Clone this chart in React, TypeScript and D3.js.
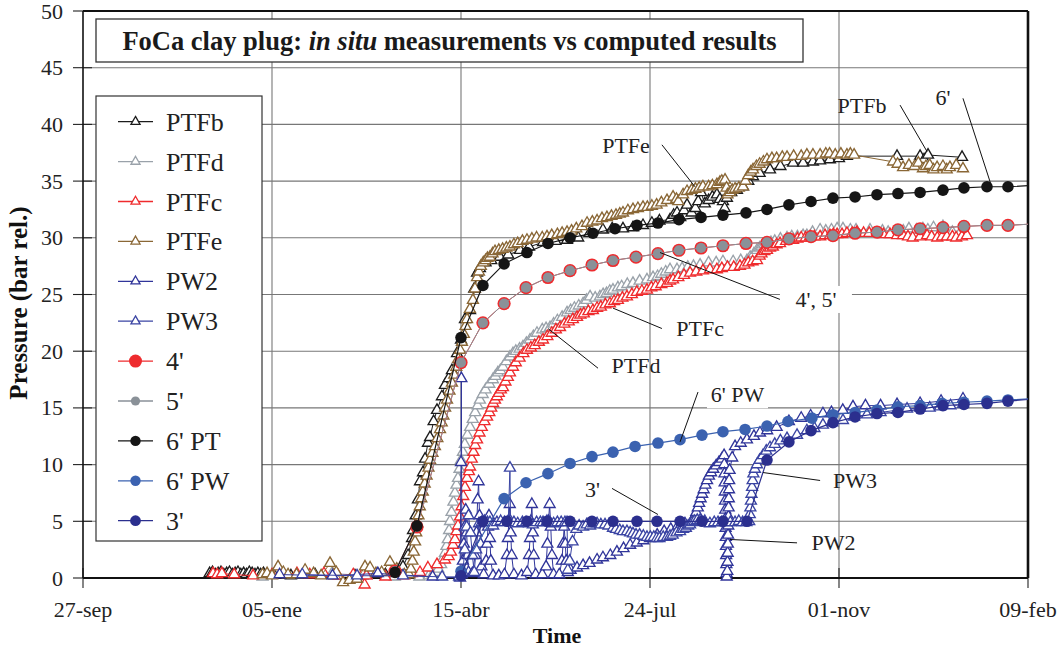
import React from "react";
import * as d3 from "d3";

type P = [number, number];

const xTickDays = [0, 100, 200, 300, 400, 500];
const xTickLabels = ["27-sep", "05-ene", "15-abr", "24-jul", "01-nov", "09-feb"];
const yTickValues = [0, 5, 10, 15, 20, 25, 30, 35, 40, 45, 50];
const legendNames = ["PTFb", "PTFd", "PTFc", "PTFe", "PW2", "PW3", "4'", "5'", "6' PT", "6' PW", "3'"];

// day counted from 27-sep, value in bar
const ptfb: P[] = [[67,0.4],[68.5,0.5],[70,0.3],[71.5,0.4],[73,0.5],[74.5,0.3],[76,0.4],[77.5,0.5],[79,0.3],[80.5,0.4],[82,0.5],[83.5,0.3],[85,0.4],[86.5,0.3],[88,0.5],[89.5,0.4],[91,0.3],[92.5,0.4],[94,0.3],[95.5,0.4],[101,0.3],[110,0.2],[122.8,0.3],[133,0.2],[143.9,0.2],[148,0.2],[160,0.3],[165,0.4],[169.3,1.0],[172,2.0],[174.1,3.5],[174.6,4.2],[176,5.5],[177.2,6.9],[178.3,8.5],[179.9,9.3],[181,10.5],[182.5,11.9],[183.6,12.4],[185.5,13.8],[187.3,14.8],[189.9,16.0],[191.5,17.0],[193.5,17.6],[195.2,18.3],[197.9,19.8],[200,21.0],[202.1,22.8],[204.8,23.6],[207,25.5],[208.5,26.9],[210,27.3],[213,27.8],[216,28.0],[220.6,28.3],[225,28.5],[231.2,28.9],[236,29.2],[243.4,29.6],[250,29.7],[256.1,29.8],[262,30.0],[268,30.4],[275.1,30.7],[280,30.8],[285.7,30.8],[291,30.9],[296.3,31.1],[301,31.3],[305,31.5],[310.6,31.6],[312.5,32.0],[314.3,32.2],[316,31.8],[318,32.4],[319.6,32.9],[322,32.2],[324,32.6],[325.5,33.2],[327,34.0],[329,33.0],[331,33.3],[333,33.6],[335.4,33.8],[337,33.4],[338.6,33.2],[339.5,32.6],[340.7,33.5],[343,34.0],[346,34.2],[349.2,34.5],[352,35.0],[354.5,35.4],[358,35.7],[363.5,36.0],[369,36.3],[375.7,36.6],[381,36.6],[386.2,36.7],[390,36.8],[395.2,36.9],[400,37.0],[404.2,37.2],[430.7,37.2],[442.9,37.2],[445,36.9],[447.1,37.3],[465.1,37.1]];

const ptfd: P[] = [[95,0.1],[131.7,0.4],[150,0.2],[165,0.1],[178,0.1],[183,0.2],[185,0.3],[186.5,0.5],[188,0.8],[189.5,1.2],[190.5,1.7],[191.5,2.2],[192.3,2.8],[193,3.4],[193.7,4.2],[194.2,5.0],[195,5.8],[196,6.7],[196.8,7.5],[197.6,8.2],[198.4,8.8],[199.2,9.6],[200,10.4],[201,11.1],[202,11.8],[203.4,12.6],[204.8,13.3],[206.2,14.0],[207.5,14.6],[208.8,15.2],[210,15.7],[211.5,16.2],[213,16.6],[215,17.1],[216.9,17.5],[218.2,17.8],[219.5,18.1],[220.8,18.3],[222.2,18.6],[224,19.1],[225.9,19.5],[227.5,19.8],[229,20.0],[231,20.2],[232.8,20.4],[234.6,20.7],[236.5,21.0],[238.3,21.3],[240.2,21.6],[243,21.9],[245,22.0],[247.1,22.1],[249,22.4],[251,22.7],[253.5,23.0],[256.1,23.4],[258,23.6],[260,23.8],[262.3,24.0],[264.6,24.2],[266.4,24.5],[268.3,24.8],[271,24.7],[273.5,24.8],[275.2,25.0],[277,25.1],[278.7,25.3],[280.4,25.4],[283,25.6],[285,25.7],[288,25.9],[291,26.0],[294.5,26.2],[298.4,26.3],[301.6,26.5],[304,26.6],[306,26.8],[308.3,27.0],[310.6,27.2],[314.3,27.2],[317,27.3],[320,27.4],[323,27.5],[326.5,27.6],[331,27.8],[335,27.8],[338.6,27.9],[344,27.9],[348,28.0],[351.3,28.0],[353,28.3],[355,28.6],[356.6,28.9],[358,29.1],[359,29.2],[360.5,29.4],[361.9,29.5],[364,29.6],[366,29.7],[369,29.9],[372.5,30.0],[375,30.1],[378,30.1],[381,30.2],[383,30.2],[386,30.5],[390,30.7],[393,30.6],[396,30.7],[399,30.8],[402.1,30.8],[406,30.7],[409,30.7],[416.4,30.7],[423,30.6],[426,30.5],[430.7,30.5],[434,30.6],[437,30.8],[441,30.7],[444.4,30.8],[447,30.7],[450,30.9],[455,31.0],[460,30.5],[464,30.4]];

const ptfc: P[] = [[68.8,0.4],[71,0.3],[73.5,0.4],[80,0.3],[90,0.2],[100,0.3],[113.2,0.4],[120,0.3],[127.5,0.4],[135,0.2],[143,0.3],[148.1,0.4],[149,-0.6],[150,0.2],[160,0.1],[170,0.2],[174,0.4],[178.3,0.5],[182.5,0.9],[187.3,1.2],[191.5,1.6],[193.5,1.9],[194.7,2.3],[195.8,2.9],[196.8,3.4],[197.6,4.1],[198.4,4.6],[199.5,5.4],[200.3,6.3],[201.2,7.2],[202.1,8.0],[203.2,8.8],[204.2,9.4],[204.8,9.8],[205.7,10.5],[206.6,11.1],[207.5,11.7],[208.5,12.2],[209.8,12.8],[211,13.3],[212.4,13.8],[213.8,14.2],[215,14.6],[216,15.0],[217,15.4],[218,15.7],[219,16.0],[220,16.3],[221.1,16.6],[222.2,16.8],[223.5,17.3],[224.8,17.7],[225.9,18.1],[227.5,18.6],[229,19.0],[231,19.4],[233,19.8],[234.9,20.1],[237,20.3],[239,20.5],[241.2,20.8],[243.4,21.0],[245.7,21.3],[248,21.6],[250.2,21.9],[252.4,22.1],[254.7,22.4],[257,22.6],[259.2,22.8],[261.4,23.0],[263.2,23.2],[265,23.3],[267.4,23.5],[269.8,23.6],[272,23.8],[274,23.9],[276.4,24.1],[278.8,24.2],[281,24.4],[283,24.5],[285.4,24.7],[287.8,24.8],[290.4,25.0],[293,25.2],[295.7,25.3],[298.4,25.4],[300.7,25.6],[303,25.7],[306,25.9],[309,26.0],[310.6,26.2],[312.2,26.3],[315,26.5],[318,26.7],[321.2,26.9],[324.5,27.0],[328,27.1],[331.7,27.2],[335.4,27.2],[338,27.3],[341,27.4],[344.3,27.4],[347.6,27.5],[350,27.6],[352,27.8],[354.3,27.9],[356.6,28.0],[358,28.4],[359,28.6],[360.5,28.8],[361.9,28.9],[363.5,29.1],[365,29.2],[367,29.4],[368.8,29.5],[372,29.7],[375.7,29.8],[378,29.9],[380,30.0],[382.4,30.0],[384.7,30.1],[387,30.1],[390,30.1],[392.6,30.2],[395.2,30.2],[397,30.3],[399,30.3],[401.6,30.3],[404.2,30.4],[407,30.4],[409.5,30.5],[413,30.4],[416,30.4],[420.1,30.4],[423.5,30.3],[427,30.3],[430.7,30.2],[433.9,30.2],[436.5,30.1],[439,30.0],[442.9,30.1],[446.6,30.2],[449,30.1],[452,30.0],[454.6,30.1],[457.1,30.1],[460,30.1],[462,30.0],[465,30.1],[467.7,30.2]];

const ptfe: P[] = [[95,0.3],[97.4,0.4],[100,0.2],[103.2,1.0],[106,0.5],[108.5,0.3],[113,0.3],[117.5,0.7],[122,0.4],[126,0.2],[130.7,1.3],[134,0.5],[137.6,-0.4],[141,-0.2],[145,-0.1],[149.2,1.0],[151.9,0.9],[155,0.4],[158,0.5],[162.4,1.4],[166,0.8],[170,0.3],[172.5,0.3],[173.5,0.8],[174.3,1.5],[175,2.3],[175.7,3.2],[176.3,4.0],[176.9,4.8],[177.5,5.5],[178.2,6.3],[179,7.0],[179.8,7.6],[180.8,8.3],[181.8,9.0],[182.8,9.7],[183.6,10.4],[184.9,11.0],[186.2,11.6],[187.5,12.3],[188.9,13.1],[189.8,13.7],[190.7,14.3],[191.6,15.0],[192.6,15.7],[193.9,16.5],[195.2,17.2],[196.4,17.9],[197.5,18.6],[198.5,19.3],[199.5,20.1],[200.5,20.8],[201.5,21.5],[202.4,22.2],[203.2,22.8],[204.7,23.7],[206.3,24.5],[207.4,25.5],[208.5,26.5],[209.5,27.0],[210.5,27.5],[211.8,27.8],[213,28.0],[214,28.2],[215.3,28.3],[216.7,28.6],[218,28.8],[220,28.9],[222,29.0],[224,29.1],[225.9,29.2],[228,29.4],[230,29.5],[232.5,29.7],[234.9,29.8],[237.5,29.9],[240,30.0],[243,30.0],[245.5,30.1],[248,30.2],[251,30.3],[253.5,30.4],[256.1,30.5],[258.5,30.6],[261,30.8],[264,31.0],[266.7,31.3],[269.5,31.4],[272,31.5],[274.6,31.7],[277.2,31.8],[279.6,31.9],[282,32.0],[284,32.1],[285.7,32.2],[288.3,32.4],[291,32.5],[293.6,32.6],[296.3,32.7],[298.6,32.7],[301,32.8],[303.5,32.9],[306,33.1],[309,33.3],[312.2,33.6],[314,33.4],[315,33.2],[317.5,33.8],[319.6,34.1],[322,34.2],[324,34.3],[326,34.4],[328,34.5],[331,34.5],[333,34.6],[335.4,34.7],[337,34.9],[338,35.0],[339.7,35.1],[340.5,34.4],[341,33.8],[342.3,34.0],[343.5,34.2],[345,34.3],[347,34.4],[349.2,34.5],[350.5,35.0],[352,35.5],[353.3,35.8],[354.5,36.0],[356.3,36.3],[358,36.5],[360,36.7],[361.9,36.9],[364.5,37.0],[367,37.0],[370,37.1],[372.5,37.1],[376,37.2],[380,37.2],[383,37.3],[386.2,37.3],[390,37.3],[393,37.4],[395,37.4],[398,37.3],[401,37.4],[404.2,37.3],[406,37.4],[408,37.3],[428.6,36.7],[431,36.5],[433.9,36.2],[437,36.4],[440,36.3],[442,36.6],[444.4,36.1],[446,36.3],[448,36.4],[450,36.0],[451.9,36.2],[455,36.3],[457,36.0],[458.7,36.2],[462,36.4],[465.6,36.1]];

const pw2: P[] = [[104,0.3],[132,0.2],[156,0.4],[185,0.1],[199.5,0.0],[200,10.2],[200.2,17.6],[200.5,0.3],[201,1.5],[201.5,3.0],[202,4.5],[202.5,6.0],[203,4.0],[203.5,2.0],[204,0.5],[206,0.4],[207.5,2.0],[208.2,4.0],[208.8,6.9],[209.3,8.5],[209.8,5.5],[210.3,3.0],[210.8,1.0],[212,0.3],[213.3,1.5],[213.8,3.0],[214.3,4.5],[214.8,5.5],[215.3,3.5],[215.8,1.5],[217,0.2],[220,0.2],[223,0.3],[224.3,2.0],[224.8,3.5],[225.3,5.0],[225.8,6.5],[226.3,4.0],[226.8,2.0],[228,0.3],[232,0.2],[235,0.5],[236,2.0],[236.5,3.5],[237,5.0],[237.5,6.5],[238,4.0],[238.5,2.0],[239.5,0.3],[243,0.3],[245,1.0],[245.7,3.0],[246.3,5.0],[246.9,6.5],[247.5,4.5],[248.1,2.0],[249,0.3],[252,0.3],[253.4,1.5],[254,3.0],[254.6,4.5],[255.2,3.0],[255.7,1.5],[256.5,0.5],[258,0.7],[261.4,0.9],[264.6,1.1],[268,1.3],[272,1.6],[275.1,1.8],[279,2.0],[282.5,2.3],[286,2.6],[289.5,2.9],[293,3.1],[296.5,3.3],[300,3.5],[303.8,3.8],[307.5,4.1],[311,4.3],[314.8,4.6],[318.5,4.8],[322.5,5.1],[323.5,5.4],[324.5,5.8],[325.3,6.2],[326,6.6],[326.8,7.0],[327.6,7.4],[328.4,7.8],[329.3,8.2],[330.2,8.6],[331.2,9.0],[332.3,9.3],[333.5,9.6],[335,9.9],[336.5,10.2],[338,10.5],[339.2,10.8],[339.3,10.0],[339.4,9.2],[339.5,8.4],[339.6,7.6],[339.7,6.8],[339.8,6.0],[339.9,5.2],[340.0,4.4],[340.1,3.6],[340.2,2.8],[340.3,2.0],[340.4,1.2],[340.5,0.4],[340.6,0.1],[340.9,0.6],[341.0,1.4],[341.1,2.2],[341.2,3.0],[341.3,3.8],[341.4,4.6],[341.5,5.4],[341.6,6.2],[341.7,7.0],[341.8,7.8],[341.9,8.6],[342.1,9.5],[343.5,10.6],[345,11.6],[348,11.9],[351.3,12.2],[355,12.5],[358.2,12.8],[362,13.0],[367,13.3],[373.5,13.8],[380,14.1],[385,14.3],[391.5,14.5],[396,14.6],[402,14.8],[407.4,15.1],[414,15.2],[422,15.2],[430.7,15.3],[442.9,15.4],[454,15.6],[465.6,15.8]];

const pw3: P[] = [[116,0.3],[145,0.2],[169.3,0.2],[190,0.1],[199,0.1],[201,0.5],[202,2.5],[203,4.5],[204,5.5],[205,4.0],[206,2.0],[207,0.5],[208,2.5],[209.5,4.8],[211,4.9],[212.5,5.0],[214,4.9],[215.3,4.9],[217,4.6],[219,4.9],[221,5.0],[223,4.9],[225,5.0],[225.9,9.7],[226.2,5.0],[228,4.9],[230,4.8],[232.5,4.9],[234.4,4.9],[236,4.8],[238,4.7],[240,4.9],[242,4.9],[243.4,4.9],[245.5,5.0],[247,4.9],[249,4.8],[251,4.9],[253,4.9],[255,4.9],[256.1,4.9],[256.5,0.7],[257.5,1.5],[259,3.2],[261,4.3],[262.5,4.6],[264.6,4.5],[266.5,4.7],[268.3,4.6],[270,4.8],[272,4.8],[274,4.7],[276.2,4.7],[278,4.6],[280.4,4.4],[282,4.3],[284,4.2],[285.7,4.1],[287.8,4.1],[289.5,4.0],[291,3.9],[292.6,3.8],[294.5,3.8],[296.5,3.7],[298.4,3.6],[300.2,3.6],[302,3.6],[303.6,3.5],[305,3.5],[307,3.6],[309,3.6],[310.6,3.7],[312,3.8],[314,4.0],[315.9,4.1],[317.5,4.3],[319,4.4],[320.2,4.6],[321.2,4.7],[322.3,4.9],[323.5,5.0],[325,5.1],[326.5,5.1],[329,5.0],[331.7,4.8],[334,4.9],[336,4.9],[338,4.9],[340,4.9],[342.5,4.9],[345,4.9],[347,5.0],[349,4.9],[351,4.9],[352.5,5.0],[352.8,5.6],[353.1,6.2],[353.4,6.8],[353.7,7.4],[354,8.0],[354.3,8.6],[354.7,9.2],[355.5,9.6],[356.6,10.0],[358,10.4],[359.8,10.8],[361.5,11.2],[363.5,11.5],[366,11.8],[369,12.1],[372.5,12.3],[377.8,12.6],[383,13.0],[387,13.2],[391.5,13.5],[396.5,13.7],[402.1,13.9],[408,14.2],[414.8,14.4],[422,14.6],[430.7,14.8],[436,14.9],[442.9,15.0],[448,15.0],[453.4,15.1],[459,15.2],[465.6,15.3]];

const calc4: P[] = [[165.1,0.6],[176.7,4.5],[200,19.0],[211.6,22.5],[222.8,24.2],[234.4,25.6],[246,26.5],[257.7,27.1],[269.3,27.6],[280.4,28.0],[292.6,28.3],[304.2,28.6],[315.3,28.9],[327,29.1],[338.6,29.3],[350.8,29.5],[361.9,29.6],[373.5,29.9],[385.2,30.1],[396.8,30.2],[408.5,30.4],[420.1,30.5],[431.2,30.7],[442.9,30.8],[455,30.9],[466.1,31.0],[478.3,31.1],[489.4,31.1],[512,31.3]];

const calc5: P[] = [[165.1,0.6],[176.7,4.5],[200,19.0],[211.6,22.5],[222.8,24.2],[234.4,25.6],[246,26.5],[257.7,27.1],[269.3,27.6],[280.4,28.0],[292.6,28.3],[304.2,28.6],[315.3,28.9],[327,29.1],[338.6,29.3],[350.8,29.5],[361.9,29.6],[373.5,29.9],[385.2,30.1],[396.8,30.2],[408.5,30.4],[420.1,30.5],[431.2,30.7],[442.9,30.8],[455,30.9],[466.1,31.0],[478.3,31.1],[489.4,31.1],[512,31.3]];

const calc6pt: P[] = [[165.1,0.5],[176.7,4.6],[200,21.2],[211.6,25.8],[222.8,27.7],[234.9,28.7],[246,29.5],[257.7,30.0],[269.8,30.4],[281.5,30.8],[293.1,31.1],[304.2,31.3],[315.3,31.6],[327,31.8],[338.6,32.0],[350.8,32.2],[361.9,32.5],[373.5,32.9],[385.2,33.2],[396.8,33.5],[408.5,33.6],[420.1,33.8],[431.2,33.9],[442.9,34.0],[455,34.2],[466.1,34.4],[478.3,34.5],[489.4,34.5],[512,34.7]];

const calc6pw: P[] = [[200,0.6],[222.8,7.0],[234.4,8.4],[246,9.2],[257.7,10.1],[269.3,10.7],[280.4,11.1],[292.1,11.6],[304.2,11.9],[315.9,12.2],[327.5,12.6],[338.6,12.9],[350.3,13.1],[361.9,13.4],[373,13.8],[385.7,14.1],[396.8,14.4],[408.5,14.6],[420.1,14.8],[431.2,15.1],[442.9,15.2],[454.5,15.4],[466.1,15.5],[478.3,15.6],[489.4,15.7],[512,15.9]];

const calc3: P[] = [[200,0.2],[211.6,5.0],[224.3,5.0],[234.9,5.0],[245.5,5.0],[257.7,5.0],[269.3,5.0],[280.4,5.0],[293.1,5.0],[303.7,5.0],[315.9,5.0],[327.5,5.0],[338.6,5.0],[351.3,5.0],[361.9,10.4],[373.5,12.0],[385.2,13.0],[396.8,13.7],[408.5,14.2],[420.1,14.5],[431.2,14.6],[442.9,14.9],[455,15.2],[466.1,15.3],[478.3,15.4],[489.4,15.6],[512,15.9]];

const labelTexts = ["PTFe", "PTFb", "6'", "4', 5'", "PTFc", "PTFd", "6' PW", "3'", "PW3", "PW2"];
// [text x(day), text baseline (bar), leader from (day,bar), leader to (day,bar)]
const labelAnchors: [number, number, number, number, number, number][] = [
  [287.3, 37.5, 306.3, 38.2, 323.8, 34.5],
  [412.2, 41.0, 432.3, 41.7, 446.6, 37.6],
  [455.0, 41.7, 465.6, 42.3, 480.4, 34.7],
  [387.8, 23.9, 305.3, 28.7, 369.8, 24.5],
  [326.5, 21.3, 280.4, 23.8, 306.3, 22.0],
  [292.6, 18.1, 246.0, 22.0, 272.5, 18.5],
  [346.3, 15.5, 325.4, 16.4, 315.9, 12.0],
  [269.6, 7.1, 279.9, 7.9, 304.2, 5.6],
  [408.5, 7.9, 390.0, 8.6, 359.8, 9.3],
  [397.1, 2.5, 377.8, 3.1, 342.3, 3.4],
];
const labelWithBg = ["6' PW", "4', 5'"];

const FONT = "'Liberation Serif','Times New Roman',Times,serif";
const X0 = 83, X1 = 1028, Y0 = 578, Y1 = 11;

type Series = { name: string; data: P[]; color: string; kind: "tri" | "dot"; r?: number; fill?: string; lw: number };

export default function App() {
  const x = d3.scaleLinear().domain([xTickDays[0], xTickDays[xTickDays.length - 1]]).range([X0, X1]);
  const y = d3.scaleLinear().domain([0, 50]).range([Y0, Y1]);
  const line = d3.line<P>().x((d) => x(d[0])).y((d) => y(d[1]));
  const tri = d3.symbol(d3.symbolTriangle, 52)() as string;
  const triLeg = d3.symbol(d3.symbolTriangle, 36)() as string;

  const series: Series[] = [
    { name: "PTFb", data: ptfb, color: "#1c1c1c", kind: "tri", lw: 1 },
    { name: "PTFd", data: ptfd, color: "#9aa2aa", kind: "tri", lw: 1 },
    { name: "PTFc", data: ptfc, color: "#ef2b2d", kind: "tri", lw: 1 },
    { name: "PTFe", data: ptfe, color: "#8a6736", kind: "tri", lw: 1 },
    { name: "PW2", data: pw2, color: "#30359a", kind: "tri", lw: 1 },
    { name: "PW3", data: pw3, color: "#3a44a3", kind: "tri", lw: 1 },
    { name: "4'", data: calc4, color: "#ee2b2e", kind: "dot", r: 6.6, fill: "#ee2b2e", lw: 1 },
    { name: "5'", data: calc5, color: "#8a9198", kind: "dot", r: 5.1, fill: "#8a9198", lw: 1 },
    { name: "6' PT", data: calc6pt, color: "#151515", kind: "dot", r: 5.8, fill: "#151515", lw: 1.2 },
    { name: "6' PW", data: calc6pw, color: "#3b62b0", kind: "dot", r: 5.8, fill: "#3b62b0", lw: 1.2 },
    { name: "3'", data: calc3, color: "#2b2f8e", kind: "dot", r: 5.8, fill: "#2b2f8e", lw: 1.2 },
  ];
  const legendR: Record<string, number> = { "4'": 6.5, "5'": 4.6, "6' PT": 5.2, "6' PW": 5.2, "3'": 5.4 };
  const gridColor = "#777";

  return (
    <svg width={1059} height={650} style={{ position: "absolute", left: 0, top: 0, background: "#fff" }} fontFamily={FONT}>
      <defs>
        <clipPath id="plotclip">
          <rect x={0} y={0} width={X1} height={650} />
        </clipPath>
      </defs>
      <rect x={0} y={0} width={1059} height={650} fill="#fff" />
      {/* grid */}
      {yTickValues.slice(1, -1).map((v) => (
        <line key={"gy" + v} x1={X0} x2={X1} y1={y(v)} y2={y(v)} stroke={gridColor} strokeWidth={1.1} />
      ))}
      {xTickDays.slice(1, -1).map((d) => (
        <line key={"gx" + d} x1={x(d)} x2={x(d)} y1={Y1} y2={Y0} stroke={gridColor} strokeWidth={1.1} />
      ))}
      {/* ticks */}
      {yTickValues.map((v) => (
        <line key={"ty" + v} x1={X0 - 10} x2={X0 + 9} y1={y(v)} y2={y(v)} stroke="#222" strokeWidth={1.1} />
      ))}
      {xTickDays.map((d) => (
        <line key={"tx" + d} x1={x(d)} x2={x(d)} y1={Y0 - 10} y2={Y0 + 10} stroke="#222" strokeWidth={1.1} />
      ))}
      {/* border */}
      <line x1={X0} x2={X0} y1={Y1} y2={Y0} stroke="#111" strokeWidth={1.6} />
      <line x1={X0} x2={X1} y1={Y0} y2={Y0} stroke="#111" strokeWidth={2} />
      <line x1={X0} x2={X1} y1={Y1} y2={Y1} stroke="#111" strokeWidth={2} />
      <line x1={X1} x2={X1} y1={Y1} y2={Y0} stroke="#111" strokeWidth={2.6} />

      {/* tick labels */}
      {yTickValues.map((v) => (
        <text key={"ly" + v} x={63} y={y(v) + 7.5} textAnchor="end" fontSize={22} fill="#222">{v}</text>
      ))}
      {xTickDays.map((d, i) => (
        <text key={"lx" + d} x={x(d)} y={617} textAnchor="middle" fontSize={22} fill="#222">{xTickLabels[i]}</text>
      ))}
      <text x={557} y={643} textAnchor="middle" fontSize={22} fontWeight="bold" fill="#111">Time</text>
      <text transform="translate(27,303) rotate(-90)" textAnchor="middle" fontSize={25} fontWeight="bold" fill="#111">Pressure (bar rel.)</text>

      {/* series */}
      <g clipPath="url(#plotclip)">
        {series.map((s) => (
          <g key={s.name}>
            <path d={line(s.data) as string} fill="none" stroke={s.color} strokeWidth={s.lw} />
            {s.data.map((p, i) =>
              s.kind === "tri" ? (
                <path key={i} d={tri} transform={`translate(${x(p[0])},${y(p[1])})`} fill="#fff" stroke={s.color} strokeWidth={1.35} />
              ) : (
                <circle key={i} cx={x(p[0])} cy={y(p[1])} r={s.r} fill={s.fill} stroke="none" />
              )
            )}
          </g>
        ))}
      </g>

      {/* annotations */}
      {labelTexts.map((t, i) => {
        const a = labelAnchors[i];
        const tx = x(a[0]);
        const ty = y(a[1]);
        const bg = labelWithBg.includes(t);
        const w = t.length * 11 + 6;
        return (
          <g key={"an" + i}>
            <line x1={x(a[2])} y1={y(a[3])} x2={x(a[4])} y2={y(a[5])} stroke="#111" strokeWidth={1} />
            {bg && <rect x={tx - w / 2} y={ty - 21} width={w} height={27} fill="#fff" />}
            <text x={tx} y={ty} textAnchor="middle" fontSize={22} fill="#222">{t}</text>
          </g>
        );
      })}

      {/* title */}
      <rect x={96} y={19} width={707} height={43} fill="#fff" stroke="#333" strokeWidth={1.3} />
      <text x={449.5} y={49.5} textAnchor="middle" fontSize={26.5} fontWeight="bold" fill="#1a1a1a">
        FoCa clay plug: <tspan fontStyle="italic">in situ</tspan> measurements vs computed results
      </text>

      {/* legend */}
      <rect x={96} y={96} width={166} height={445} fill="#fff" stroke="#333" strokeWidth={1.2} />
      {legendNames.map((n, i) => {
        const s = series.find((q) => q.name === n)!;
        const cy = 121.7 + i * 39.9;
        return (
          <g key={"lg" + n}>
            <line x1={118} x2={153} y1={cy} y2={cy} stroke={s.color} strokeWidth={1.3} />
            {s.kind === "tri" ? (
              <path d={triLeg} transform={`translate(135.5,${cy})`} fill="#fff" stroke={s.color} strokeWidth={1.3} />
            ) : (
              <circle cx={135.5} cy={cy} r={legendR[n]} fill={s.fill} />
            )}
            <text x={166} y={cy + 9} fontSize={26} fill="#222">{n}</text>
          </g>
        );
      })}
    </svg>
  );
}
